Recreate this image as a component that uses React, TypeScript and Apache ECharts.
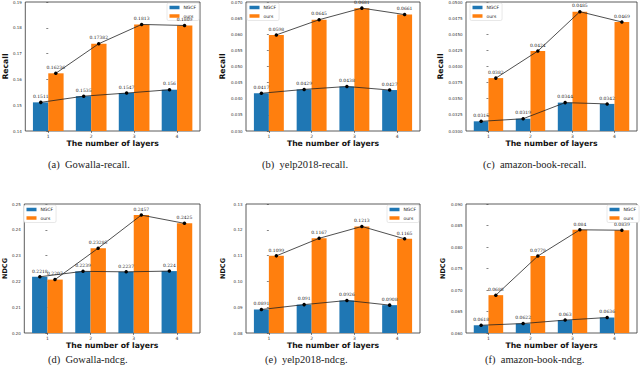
import React, { useEffect, useRef } from "react";
import * as echarts from "echarts";

// ---- data ----
const layerLabels = ["1", "2", "3", "4"];
const layerPositions = [0, 1, 2, 3];
const seriesNames = ["NGCF", "ours"];

const gowallaRecallNGCF = [0.1511, 0.1535, 0.1547, 0.156];
const gowallaRecallOurs = [0.16236, 0.17382, 0.1813, 0.1809];
const yelpRecallNGCF = [0.0417, 0.0429, 0.0438, 0.0427];
const yelpRecallOurs = [0.0598, 0.0645, 0.0681, 0.0661];
const amazonRecallNGCF = [0.0315, 0.0319, 0.0344, 0.0342];
const amazonRecallOurs = [0.0382, 0.0424, 0.0485, 0.0469];
const gowallaNdcgNGCF = [0.2218, 0.2239, 0.2237, 0.224];
const gowallaNdcgOurs = [0.2207, 0.23285, 0.2457, 0.2425];
const yelpNdcgNGCF = [0.0891, 0.091, 0.0926, 0.0908];
const yelpNdcgOurs = [0.1099, 0.1167, 0.1213, 0.1165];
const amazonNdcgNGCF = [0.0618, 0.0622, 0.063, 0.0636];
const amazonNdcgOurs = [0.0688, 0.0779, 0.084, 0.0839];

const yAxisNames = ["Recall", "Recall", "Recall", "NDCG", "NDCG", "NDCG"];
const xAxisName = "The number of layers";
const yMins = [0.14, 0.03, 0.03, 0.2, 0.08, 0.06];
const yMaxs = [0.19, 0.07, 0.05, 0.25, 0.13, 0.09];
const yIntervals = [0.01, 0.005, 0.0025, 0.01, 0.01, 0.005];
const yDecimals = [2, 3, 4, 2, 2, 3];
const captions = [
  "(a)\u2002Gowalla-recall.",
  "(b)\u2002yelp2018-recall.",
  "(c)\u2002amazon-book-recall.",
  "(d)\u2002Gowalla-ndcg.",
  "(e)\u2002yelp2018-ndcg.",
  "(f)\u2002amazon-book-ndcg.",
];

const ngcfData = [gowallaRecallNGCF, yelpRecallNGCF, amazonRecallNGCF, gowallaNdcgNGCF, yelpNdcgNGCF, amazonNdcgNGCF];
const oursData = [gowallaRecallOurs, yelpRecallOurs, amazonRecallOurs, gowallaNdcgOurs, yelpNdcgOurs, amazonNdcgOurs];

// ---- layout / style ----
const grids = [
  { left: 21.7, top: 2, width: 178.3, height: 129 },
  { left: 246, top: 2, width: 174, height: 129 },
  { left: 466, top: 2, width: 171, height: 129 },
  { left: 21.7, top: 204, width: 178.3, height: 129 },
  { left: 246, top: 204, width: 174, height: 129 },
  { left: 466, top: 204, width: 171, height: 129 },
];
const legendPos = [
  { left: 167, top: 3 },
  { left: 247, top: 3 },
  { left: 470, top: 3 },
  { left: 24, top: 205 },
  { left: 387, top: 205 },
  { left: 607, top: 205 },
];
const captionPos = [
  { x: 48, y: 164 },
  { x: 262, y: 164 },
  { x: 483, y: 164 },
  { x: 48, y: 359 },
  { x: 265, y: 359 },
  { x: 485, y: 359 },
];
const yNameGap = [15.5, 20, 20, 15.5, 20, 20];
const yNameSize = [7.7, 7.7, 7.7, 6.5, 6.5, 6.5];
const BLUE = "#1f77b4";
const ORANGE = "#ff7f0e";
const X_MIN = -0.535;
const X_MAX = 3.535;
const HALF = 0.175;

export default function App() {
  const ref = useRef<HTMLDivElement>(null);
  useEffect(() => {
    if (!ref.current) return;
    const chart = echarts.init(ref.current, null, { renderer: "svg" });
    const xAxes: any[] = [];
    const yAxes: any[] = [];
    const series: any[] = [];
    const legends: any[] = [];
    grids.forEach((g, p) => {
      const unit = g.width / (X_MAX - X_MIN);
      const bw = 0.35 * unit;
      xAxes.push({
        type: "value",
        gridIndex: p,
        min: X_MIN,
        max: X_MAX,
        name: xAxisName,
        nameLocation: "middle",
        nameGap: 8.5,
        nameTextStyle: { fontFamily: "DejaVu Sans", fontWeight: "bold", fontSize: 7.7, color: "#111" },
        axisLine: { show: false },
        splitLine: { show: false },
        axisTick: { show: true, length: 2, customValues: layerPositions, lineStyle: { color: "#333", width: 0.6 } },
        axisLabel: {
          customValues: layerPositions,
          formatter: (v: number) => layerLabels[Math.round(v)] ?? "",
          fontSize: 4.5,
          margin: 3,
          color: "#333",
          fontFamily: "DejaVu Sans",
        },
      });
      yAxes.push({
        type: "value",
        gridIndex: p,
        min: yMins[p],
        max: yMaxs[p],
        interval: yIntervals[p],
        name: yAxisNames[p],
        nameLocation: "middle",
        nameGap: yNameGap[p],
        nameTextStyle: { fontFamily: "DejaVu Sans", fontWeight: "bold", fontSize: yNameSize[p], color: "#111" },
        axisLine: { show: false },
        splitLine: { show: false },
        axisTick: { show: true, length: 2, lineStyle: { color: "#333", width: 0.6 } },
        axisLabel: {
          formatter: (v: number) => v.toFixed(yDecimals[p]),
          fontSize: 4,
          margin: 3.5,
          color: "#333",
          fontFamily: "DejaVu Sans",
        },
      });
      const ngcf = ngcfData[p];
      const ours = oursData[p];
      series.push({
        type: "bar",
        name: seriesNames[0],
        xAxisIndex: p,
        yAxisIndex: p,
        barWidth: bw,
        barGap: "0%",
        itemStyle: { color: BLUE },
        data: layerPositions.map((x, i) => [x, ngcf[i]]),
      });
      series.push({
        type: "bar",
        name: seriesNames[1],
        xAxisIndex: p,
        yAxisIndex: p,
        barWidth: bw,
        barGap: "0%",
        itemStyle: { color: ORANGE },
        data: layerPositions.map((x, i) => [x, ours[i]]),
      });
      const lineCommon = {
        type: "line",
        xAxisIndex: p,
        yAxisIndex: p,
        z: 5,
        symbol: "circle",
        symbolSize: 3.5,
        itemStyle: { color: "#000" },
        lineStyle: { color: "#222", width: 0.8 },
        label: {
          show: true,
          position: "top",
          distance: 1.5,
          fontSize: 4.5,
          color: "#222",
          fontFamily: "DejaVu Serif",
          formatter: (pr: any) => String(pr.value[1]),
        },
      };
      series.push({
        ...lineCommon,
        name: "NGCF-trend-" + p,
        data: layerPositions.map((x, i) => [x - HALF, ngcf[i]]),
      });
      series.push({
        ...lineCommon,
        name: "ours-trend-" + p,
        data: layerPositions.map((x, i) => [x + HALF, ours[i]]),
      });
      legends.push({
        data: seriesNames,
        orient: "vertical",
        left: legendPos[p].left,
        top: legendPos[p].top,
        icon: "rect",
        itemWidth: 10,
        itemHeight: 3.5,
        itemGap: 3.5,
        padding: [2, 3, 2, 2.5],
        backgroundColor: "#fff",
        borderColor: "#d0d0d0",
        borderWidth: 0.5,
        borderRadius: 1.5,
        selectedMode: false,
        textStyle: { fontSize: 4.5, lineHeight: 5, color: "#222", fontFamily: "DejaVu Sans", padding: [0, 0, 0, -1] },
      });
    });

    const graphics: any[] = captions.map((c, i) => ({
      type: "text",
      x: captionPos[i].x,
      y: captionPos[i].y,
      style: {
        text: c,
        fontSize: 10.5,
        fontFamily: "Liberation Serif",
        fill: "#222",
        align: "left",
        verticalAlign: "middle",
      },
    }));

    chart.setOption({
      animation: false,
      backgroundColor: "#fff",
      grid: grids.map((g) => ({
        ...g,
        show: true,
        borderColor: "#333",
        borderWidth: 0.8,
        backgroundColor: "transparent",
      })),
      xAxis: xAxes,
      yAxis: yAxes,
      legend: legends,
      series,
      graphic: graphics,
    });
    return () => chart.dispose();
  }, []);
  return (
    <div
      ref={ref}
      style={{ position: "absolute", left: 0, top: 0, width: 640, height: 379 }}
    />
  );
}
